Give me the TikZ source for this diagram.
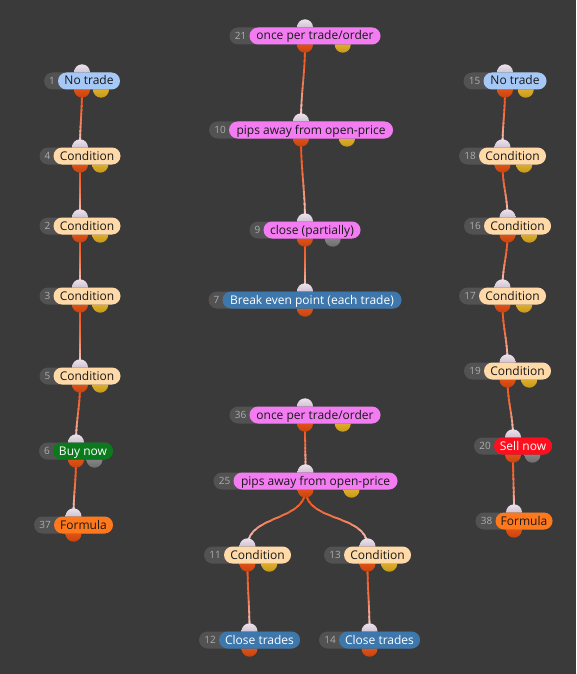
\documentclass[tikz,border=0pt]{standalone}
\usepackage{fontspec}
\setmainfont{Open Sans}
\usetikzlibrary{calc}
\definecolor{bgc}{HTML}{3A3A3A}
\definecolor{greyc}{HTML}{525252}
\definecolor{numc}{HTML}{ADADAD}
\definecolor{notradec}{HTML}{A6C8F6}
\definecolor{condc}{HTML}{FFDAA8}
\definecolor{pinkc}{HTML}{F47CF2}
\definecolor{bluec}{HTML}{3D77AC}
\definecolor{buyc}{HTML}{0B7A1C}
\definecolor{sellc}{HTML}{FF0F1E}
\definecolor{formc}{HTML}{FF781C}
\definecolor{linetop}{HTML}{F0561E}
\definecolor{linebot}{HTML}{F6E2EA}
\definecolor{inA}{HTML}{ECE2EC}
\definecolor{inB}{HTML}{B6A6BC}
\definecolor{outA}{HTML}{F2621E}
\definecolor{outB}{HTML}{C8420E}
\definecolor{yelA}{HTML}{F0C23A}
\definecolor{yelB}{HTML}{C8981A}
\definecolor{gryA}{HTML}{979797}
\definecolor{gryB}{HTML}{6E6E6E}
\pgfdeclarelayer{bg}
\pgfdeclarelayer{lines}
\pgfdeclarelayer{dots}
\pgfsetlayers{bg,lines,dots,main}
\tikzset{
  greypill/.style={rectangle, rounded corners=8.5pt, minimum height=17pt, inner sep=0pt, fill=greyc},
  labelpill/.style={rectangle, rounded corners=8.5pt, minimum height=17pt, inner sep=0pt,
    font=\fontsize{12}{13}\selectfont, text height=8.6pt, text depth=0.6pt, text=black!90},
  numtext/.style={inner sep=0pt, font=\fontsize{10}{11}\selectfont, text=numc, text height=7.3pt, text depth=-0.5pt},
  notrade/.style={fill=notradec},
  cond/.style={fill=condc},
  pinkl/.style={fill=pinkc},
  bluel/.style={fill=bluec, text=white},
  buyl/.style={fill=buyc, text=white},
  selll/.style={fill=sellc, text=white},
  forml/.style={fill=formc},
  dotbase/.style={circle, minimum size=16pt, inner sep=0pt},
  indot/.style={dotbase, top color=inA, bottom color=inB},
  outdot/.style={dotbase, top color=outA, bottom color=outB},
  yeldot/.style={dotbase, top color=yelA, bottom color=yelB},
  grydot/.style={dotbase, top color=gryA, bottom color=gryB},
  connline/.style={line width=1.8pt},
}
% #1 name, #2 cx, #3 y, #4 label width, #5 number width, #6 number, #7 label, #8 label style, #9 second dot
\newcommand\fnode[9]{%
  \pgfmathsetmacro\mytw{#4+#5}%
  \pgfmathsetmacro\mylx{#2+#5/2}%
  \pgfmathsetmacro\mynx{#2-\mytw/2+#5/2+1}%
  \pgfmathsetmacro\mysx{\mytw/4}%
  \node[greypill, minimum width=\mytw pt] (#1) at (#2,#3) {};
  \node[labelpill, #8, minimum width=#4 pt] (#1-l) at (\mylx,#3) {#7};
  \node[numtext] (#1-n) at (\mynx,#3) {#6};
  \begin{pgfonlayer}{dots}
    \node[indot] (#1-in) at (#1.north) {};
    \node[outdot] (#1-out) at (#1.south) {};
    \ifx&#9&\else\node[#9] (#1-o2) at ([xshift=\mysx pt]#1.south) {};\fi
  \end{pgfonlayer}%
}
\newcommand\conn[2]{%
  \begin{pgfonlayer}{lines}
  \foreach \k in {0,...,13}{%
    \pgfmathtruncatemacro\mypc{100*(1-((\k+0.5)/14)^2.2)}%
    \begin{scope}
      \clip let \p1=(#1-out.center), \p2=(#2-in.center) in
        (-10pt,{\y1+(\y2-\y1)*\k/14+0.4pt}) rectangle (600pt,{\y1+(\y2-\y1)*(\k+1)/14-0.4pt});
      \draw[connline, draw=linetop!\mypc!linebot] (#1-out.center) to[out=-90,in=90] (#2-in.center);
    \end{scope}
  }
  \end{pgfonlayer}%
}
\begin{document}
\begin{tikzpicture}[x=1pt,y=-1pt]
\begin{pgfonlayer}{bg}
\fill[bgc] (0,0) rectangle (576,674);
\end{pgfonlayer}
\useasboundingbox (0,0) rectangle (576,674);
% left column
\fnode{n1}{82}{81}{62}{14}{1}{No trade}{notrade}{yeldot}
\fnode{n4}{80}{156}{67}{14}{4}{Condition}{cond}{yeldot}
\fnode{n2}{80}{226}{67}{14}{2}{Condition}{cond}{yeldot}
\fnode{n3}{80}{296}{67}{14}{3}{Condition}{cond}{yeldot}
\fnode{n5}{80}{376}{67}{14}{5}{Condition}{cond}{yeldot}
\fnode{n6}{76}{451}{60}{14}{6}{Buy now}{buyl}{grydot}
\fnode{n37}{73.5}{525}{59}{20}{37}{Formula}{forml}{}
% middle top
\fnode{n21}{305}{36}{131}{20}{21}{once per trade/order}{pinkl}{yeldot}
\fnode{n10}{301}{130}{164}{20}{10}{pips away from open-price}{pinkl}{yeldot}
\fnode{n9}{305}{230}{97}{14}{9}{close (partially)}{pinkl}{grydot}
\fnode{n7}{305}{300}{179}{14}{7}{Break even point (each trade)}{bluel}{}
% middle bottom
\fnode{n36}{305}{415}{131}{20}{36}{once per trade/order}{pinkl}{yeldot}
\fnode{n25}{305.5}{481}{164}{20}{25}{pips away from open-price}{pinkl}{yeldot}
\fnode{n11}{247.5}{555}{67}{20}{11}{Condition}{cond}{yeldot}
\fnode{n13}{367.5}{555}{67}{20}{13}{Condition}{cond}{yeldot}
\fnode{n12}{249.5}{640}{81}{20}{12}{Close trades}{bluel}{}
\fnode{n14}{369.5}{640}{81}{20}{14}{Close trades}{bluel}{}
% right column
\fnode{n15}{505}{81}{63}{20}{15}{No trade}{notrade}{yeldot}
\fnode{n18}{502.5}{156}{67}{20}{18}{Condition}{cond}{yeldot}
\fnode{n16}{507.5}{226}{67}{20}{16}{Condition}{cond}{yeldot}
\fnode{n17}{502.5}{296}{67}{20}{17}{Condition}{cond}{yeldot}
\fnode{n19}{507.5}{371}{67}{20}{19}{Condition}{cond}{yeldot}
\fnode{n20}{513}{446}{58}{20}{20}{Sell now}{selll}{grydot}
\fnode{n38}{514}{521}{57}{20}{38}{Formula}{forml}{}
% connectors
\conn{n1}{n4}\conn{n4}{n2}\conn{n2}{n3}\conn{n3}{n5}\conn{n5}{n6}\conn{n6}{n37}
\conn{n21}{n10}\conn{n10}{n9}\conn{n9}{n7}
\conn{n36}{n25}\conn{n25}{n11}\conn{n25}{n13}\conn{n11}{n12}\conn{n13}{n14}
\conn{n15}{n18}\conn{n18}{n16}\conn{n16}{n17}\conn{n17}{n19}\conn{n19}{n20}\conn{n20}{n38}
\end{tikzpicture}
\end{document}
